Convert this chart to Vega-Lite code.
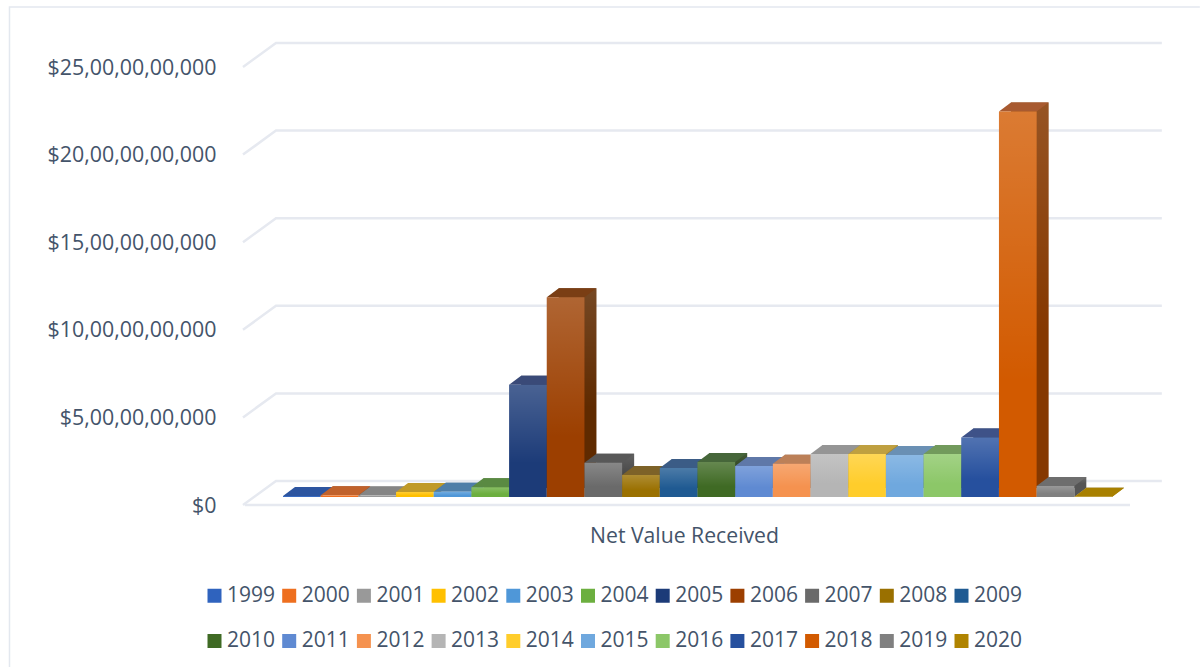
{
"$schema":"https://vega.github.io/schema/vega-lite/v6.json",
"width":885,"height":462,
"autosize":"none",
"padding":{"left":245,"top":43,"right":70,"bottom":162},
"background":"white",
"config":{"view":{"stroke":null},"font":"Open Sans"},
"datasets":{
"bars":[
{"year":"1999","value":60000000},{"year":"2000","value":100000000},{"year":"2001","value":90000000},{"year":"2002","value":280000000},{"year":"2003","value":300000000},{"year":"2004","value":550000000},{"year":"2005","value":6400000000},{"year":"2006","value":11400000000},{"year":"2007","value":1950000000},{"year":"2008","value":1250000000},{"year":"2009","value":1650000000},{"year":"2010","value":2000000000},{"year":"2011","value":1770000000},{"year":"2012","value":1900000000},{"year":"2013","value":2450000000},{"year":"2014","value":2450000000},{"year":"2015","value":2400000000},{"year":"2016","value":2450000000},{"year":"2017","value":3400000000},{"year":"2018","value":22000000000},{"year":"2019","value":630000000},{"year":"2020","value":10000000}
],
"grid":[{"v":0},{"v":5000000000},{"v":10000000000},{"v":15000000000},{"v":20000000000},{"v":25000000000}]
},
"layer":[
{"data":{"values":[{"v":0}]},"mark":{"type":"point","filled":false,"size":40000,"shape":"M-2.8235,1.62 L-2.8235,-4.98 L9.08,-4.98","stroke":"#E3E8EF","strokeWidth":1.5,"opacity":1},
 "encoding":{"x":{"datum":"1999","type":"nominal","axis":null,"scale":{"type":"band","domain":["1999","2000","2001","2002","2003","2004","2005","2006","2007","2008","2009","2010","2011","2012","2013","2014","2015","2016","2017","2018","2019","2020"],"paddingInner":0,"paddingOuter":0.743}},
  "y":{"field":"v","type":"quantitative","axis":null,"scale":{"domain":[0,26370000000],"nice":false}}}},
{"data":{"values":[{"v":0}]},"mark":{"type":"rule","color":"#E6E9F0","strokeWidth":2.5},"encoding":{"y":{"field":"v","type":"quantitative","axis":null,"scale":{"domain":[0,26370000000],"nice":false}}}},
{"data":{"name":"grid"},"mark":{"type":"point","filled":false,"size":40000,"shape":"M-0.4885,0 L-0.1585,-0.24 L8.70,-0.24","stroke":"#E6E9F0","strokeWidth":2.5,"opacity":1},
 "encoding":{"x":{"datum":"1999","type":"nominal","axis":null,"scale":{"type":"band","paddingInner":0,"paddingOuter":0.743}},
  "y":{"field":"v","type":"quantitative","title":null,"scale":{"domain":[0,26370000000],"nice":false},
  "axis":{"values":[0,5000000000,10000000000,15000000000,20000000000,25000000000],"grid":false,"domain":false,"ticks":false,"labelFontSize":21.4,"labelColor":"#44546A","labelPadding":29,"labelOffset":1,"labelExpr":"datum.value==0?'$0':'$'+(datum.value/1000000000)+',00,00,00,000'"}}}},
{"data":{"name":"bars"},"mark":{"type":"bar","width":{"band":1},"xOffset":22,"yOffset":-17,"y2Offset":-17},
 "encoding":{"x":{"field":"year","type":"nominal","axis":null,"scale":{"type":"band","paddingInner":0,"paddingOuter":0.743}},
  "y":{"field":"value","type":"quantitative","axis":null,"scale":{"domain":[0,26370000000],"nice":false}},
  "color":{"field":"year","type":"nominal","legend":null,"scale":{"range":["#1F3F7E","#94491C","#5F5F5F","#8F7000","#33618E","#3F6E24","#16264A","#5F2A00","#484848","#5A4500","#173C5C","#28401A","#3F5680","#915B38","#6E6E6E","#997B1F","#4B6A88","#557440","#1C3260","#853800","#555555","#6E5200"]}}}},
{"data":{"name":"bars"},"mark":{"type":"bar","width":{"band":1},"xOffset":22,"yOffset":-17,"y2Offset":-17,"color":{"gradient":"linear","x1":0,"y1":0,"x2":0,"y2":1,"stops":[{"offset":0,"color":"rgba(255,255,255,0.14)"},{"offset":0.6,"color":"rgba(255,255,255,0)"}]}},
 "encoding":{"x":{"field":"year","type":"nominal","axis":null,"scale":{"type":"band","paddingInner":0,"paddingOuter":0.743}},
  "y":{"field":"value","type":"quantitative","axis":null,"scale":{"domain":[0,26370000000],"nice":false}}}},
{"data":{"name":"bars"},"mark":{"type":"point","filled":true,"size":40000,"opacity":1,"strokeWidth":0,"shape":"M0.1885,0 L0.1885,-0.09 L0.3085,-0.09 Z","xOffset":10,"yOffset":-8},
 "encoding":{"x":{"field":"year","type":"nominal","axis":null,"scale":{"type":"band","paddingInner":0,"paddingOuter":0.743}},
  "y":{"datum":0,"type":"quantitative","axis":null,"scale":{"domain":[0,26370000000],"nice":false}},
  "color":{"field":"year","type":"nominal","legend":null,"scale":{"range":["#1F3F7E","#94491C","#5F5F5F","#8F7000","#33618E","#3F6E24","#16264A","#5F2A00","#484848","#5A4500","#173C5C","#28401A","#3F5680","#915B38","#6E6E6E","#997B1F","#4B6A88","#557440","#1C3260","#853800","#555555","#A88000"]}}}},
{"data":{"name":"bars"},"mark":{"type":"point","filled":true,"size":40000,"opacity":1,"strokeWidth":0,"shape":"M-0.1885,0 L0.1885,0 L0.3085,-0.09 L-0.0685,-0.09 Z","xOffset":10,"yOffset":-8},
 "encoding":{"x":{"field":"year","type":"nominal","axis":null,"scale":{"type":"band","paddingInner":0,"paddingOuter":0.743}},
  "y":{"field":"value","type":"quantitative","axis":null,"scale":{"domain":[0,26370000000],"nice":false}},
  "color":{"field":"year","type":"nominal","legend":null,"scale":{"range":["#2D55A0","#C0622C","#858585","#C09A28","#4E7EA8","#5A8A42","#3A4A78","#7A3E14","#585858","#7D6228","#3B5C86","#46663A","#5F78A8","#BC8058","#959595","#BFA040","#6A90B4","#729A5C","#3E5288","#A85A30","#6E6E6E","#A88000"]}}}},
{"data":{"name":"bars"},"mark":{"type":"bar","width":{"band":1},"xOffset":10,"yOffset":-8,"y2Offset":-8},
 "encoding":{"x":{"field":"year","type":"nominal","scale":{"type":"band","paddingInner":0,"paddingOuter":0.743},
   "axis":{"labels":false,"ticks":false,"domain":false,"title":"Net Value Received","titleFontSize":21.2,"titleFontWeight":"normal","titleColor":"#44546A","titlePadding":20,"titleX":439}},
  "y":{"field":"value","type":"quantitative","axis":null,"scale":{"domain":[0,26370000000],"nice":false}},
  "color":{"field":"year","type":"nominal","scale":{"range":["#2F63BE","#EE6F1F","#999999","#FFC000","#4F97D8","#6CAF3F","#1C3B78","#9C3F00","#6A6A6A","#9A7000","#1F5A92","#3F6A24","#5F8AD2","#F5924F","#B5B5B5","#FFCD2B","#6FA8DE","#8CC768","#26509E","#D25A00","#808080","#B08400"]},
   "legend":{"title":null,"orient":"none","legendX":-41,"legendY":542,"columns":11,"direction":"horizontal","symbolType":"square","symbolSize":196,"symbolStrokeWidth":0,"labelFontSize":21,"labelColor":"#44546A","labelOffset":2,"columnPadding":2.7,"rowPadding":23.5,"gridAlign":"each"}}}},
{"data":{"name":"bars"},"mark":{"type":"bar","width":{"band":1},"xOffset":10,"yOffset":-8,"y2Offset":-8,"color":{"gradient":"linear","x1":0,"y1":0,"x2":0,"y2":1,"stops":[{"offset":0,"color":"rgba(255,255,255,0.2)"},{"offset":0.7,"color":"rgba(255,255,255,0)"}]}},
 "encoding":{"x":{"field":"year","type":"nominal","axis":null,"scale":{"type":"band","paddingInner":0,"paddingOuter":0.743}},
  "y":{"field":"value","type":"quantitative","axis":null,"scale":{"domain":[0,26370000000],"nice":false}}}}
],
"resolve":{"scale":{"color":"independent"},"axis":{"x":"independent","y":"independent"}}
}
